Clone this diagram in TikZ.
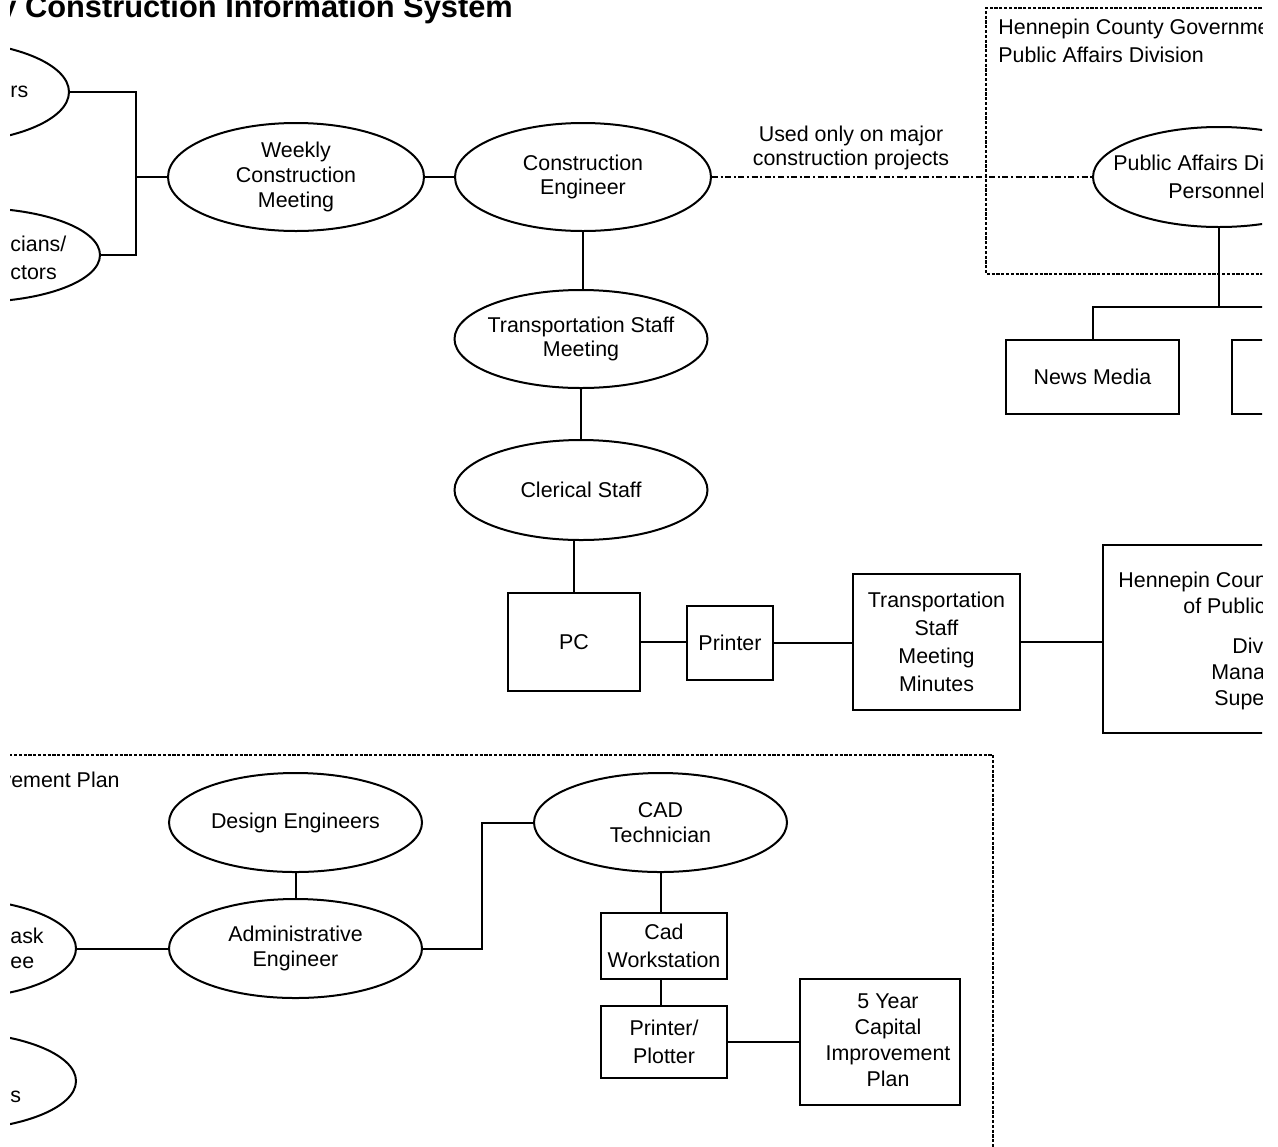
\documentclass[tikz,border=0pt]{standalone}
\usepackage{fontspec}
\setmainfont{Liberation Sans}
\usetikzlibrary{shapes.geometric}

\begin{document}
\begin{tikzpicture}[x=0.5pt,y=-0.5pt,
  every node/.style={font=\fontsize{10.7}{12.3}\selectfont, inner sep=0pt, align=center},
  conn/.style={line width=1pt},
  oval/.style={ellipse, draw, line width=1pt, fill=white, inner sep=-8pt},
  box/.style={rectangle, draw, line width=1pt, fill=white, font=\fontsize{10.7}{14}\selectfont},
  grp/.style={line width=0.8pt, dash pattern=on 1.6pt off 0.8pt},
  rare/.style={line width=0.9pt, dash pattern=on 3pt off 1.3pt on 1pt off 1.3pt},
  frag/.style={anchor=base west},
  boxfrag/.style={anchor=base west, font=\fontsize{10.7}{14}\selectfont}
]
\useasboundingbox (0,0) rectangle (1278,1146);
\fill[white] (0,0) rectangle (1278,1146);

\begin{scope}
\clip (10,0) rectangle (1262,1146);

% title
\node[anchor=base west, font=\bfseries\fontsize{15.4}{18}\selectfont] (title) at (-1,17) {y Construction Information System};

% ---------------- construction meeting chain ----------------
\node[oval, minimum width=126pt, minimum height=51pt] (rsE) at (-57,92) {};
\node[frag] (rsT) at (10,97) {rs};
\node[oval, minimum width=126pt, minimum height=47pt] (ciansE) at (-26,255) {};
\node[frag] (ciansT1) at (10,251) {cians/};
\node[frag] (ciansT2) at (10,279) {ctors};

\node[oval, minimum width=128pt, minimum height=54pt] (weekly) at (296,177) {Weekly\\Construction\\Meeting};
\node[oval, minimum width=128pt, minimum height=54pt] (ce) at (583,177) {Construction\\Engineer};
\node[oval, minimum width=126.5pt, minimum height=49pt] (tsm) at (581,339) {Transportation Staff\\Meeting};
\node[oval, minimum width=126.5pt, minimum height=50pt] (clerical) at (581,490) {Clerical Staff};

\coordinate (jn) at (136,177);
\draw[conn] (rsE.east) -| (jn);
\draw[conn] (ciansE.east) -| (jn);
\draw[conn] (jn) -- (weekly.west);
\draw[conn] (weekly.east) -- (ce.west);
\draw[conn] (ce.south) -- (ce.south |- tsm.north);
\draw[conn] (tsm.south) -- (tsm.south |- clerical.north);

% ---------------- minutes production ----------------
\node[box, minimum width=66pt, minimum height=49pt] (pc) at (574,642) {PC};
\node[box, minimum width=43pt, minimum height=37pt] (printer) at (730,643) {Printer};
\node[box, minimum width=83.5pt, minimum height=68pt] (minutes) at (936.5,642) {Transportation\\Staff\\Meeting\\Minutes};
\node[box, minimum width=125pt, minimum height=94pt] (hcbox) at (1228,639) {};
\node[boxfrag] (hcT1) at (1118,587) {Hennepin Coun};
\node[boxfrag] (hcT2) at (1183,613) {of Public};
\node[boxfrag] (hcT3) at (1232,653) {Div};
\node[boxfrag] (hcT4) at (1211,679) {Manag};
\node[boxfrag] (hcT5) at (1214,705) {Supe};

\draw[conn] (pc.north) -- (pc.north |- clerical.south);
\draw[conn] (pc.east) -- (pc.east -| printer.west);
\draw[conn] (printer.east) -- (printer.east -| minutes.west);
\draw[conn] (minutes.east) -- (minutes.east -| hcbox.west);

% ---------------- public affairs division ----------------
\draw[grp] (1300,8) -- (986,8) -- (986,274) -- (1300,274);
\node[frag] (padT1) at (998,34) {Hennepin County Governme};
\node[frag] (padT2) at (998,62) {Public Affairs Division};
\node[oval, minimum width=126pt, minimum height=50pt] (padE) at (1219,177) {};
\node[frag] (padE1) at (1113,170) {Public Affairs Di};
\node[frag] (padE2) at (1168,198) {Personnel};

\draw[rare] (ce.east) -- (padE.west);
\node (usedlbl) at (851,148) {Used only on major\\construction projects};

\node[box, minimum width=86.5pt, minimum height=37pt] (news) at (1092.5,377) {News Media};
\node[box, minimum width=87pt, minimum height=37pt] (farbox) at (1319,377) {};
\coordinate (split) at (1219,307);
\draw[conn] (padE.south) -- (split);
\draw[conn] (news.north) |- (split);
\draw[conn] (split) -| (farbox.north);

% ---------------- capital improvement plan ----------------
\draw[grp] (-10,755) -- (993,755) -- (993,1160);
\node[anchor=base east] (cipT) at (120,787) {vement Plan};

\node[oval, minimum width=126.5pt, minimum height=49.5pt] (design) at (295.5,822.5) {Design Engineers};
\node[oval, minimum width=126.5pt, minimum height=49.5pt] (admin) at (295.5,948.5) {Administrative\\Engineer};
\node[oval, minimum width=126pt, minimum height=50pt] (taskE) at (-50,948.5) {};
\node[frag] (taskT1) at (10,943) {ask};
\node[frag] (taskT2) at (10,968) {ee};
\node[oval, minimum width=126pt, minimum height=49pt] (sE) at (-50,1081) {};
\node[frag] (sT) at (10,1102) {s};

\node[oval, minimum width=126.5pt, minimum height=49.5pt] (cad) at (660.5,822.5) {CAD\\Technician};
\node[box, minimum width=63pt, minimum height=33pt] (ws) at (664,946) {Cad\\Workstation};
\node[box, minimum width=63pt, minimum height=36pt] (pp) at (664,1042) {Printer/\\Plotter};
\node[box, minimum width=80pt, minimum height=63pt] (fy) at (880,1042) {};
\node[font=\fontsize{10.7}{13}\selectfont] (fyT) at ([xshift=4pt,yshift=1pt]fy.center) {5 Year\\Capital\\Improvement\\Plan};

\draw[conn] (design.south) -- (admin.north);
\draw[conn] (taskE.east) -- (admin.west);
\coordinate (bend) at (482,948.5);
\draw[conn] (admin.east) -- (bend) |- (cad.west);
\draw[conn] (cad.south) -- (cad.south |- ws.north);
\draw[conn] (ws.south -| cad.south) -- (pp.north -| cad.south);
\draw[conn] (pp.east) -- (pp.east -| fy.west);

\end{scope}
\end{tikzpicture}
\end{document}
